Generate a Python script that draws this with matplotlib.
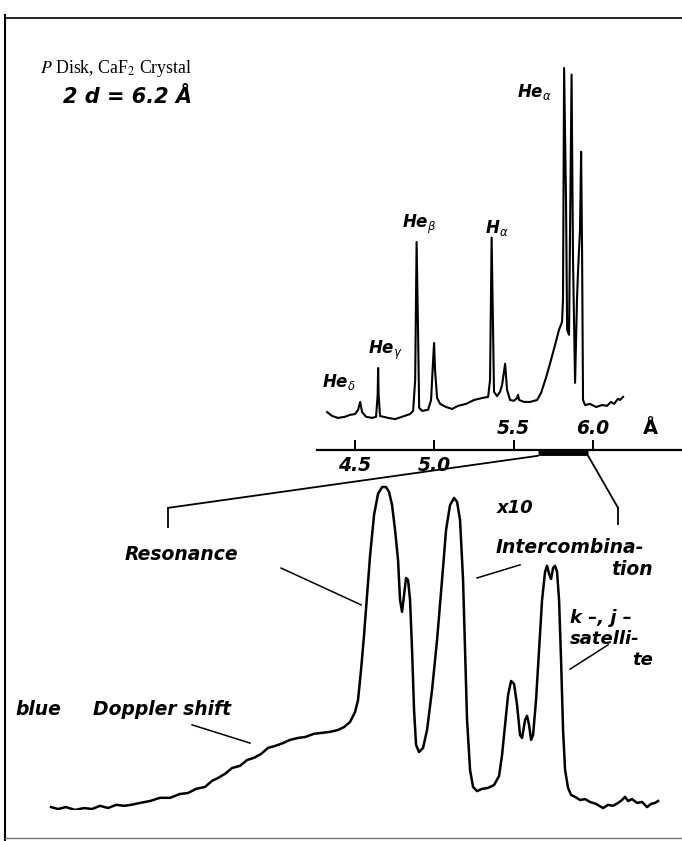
import matplotlib
matplotlib.use('Agg')
import matplotlib.pyplot as plt
from matplotlib.patches import ConnectionPatch
from matplotlib.lines import Line2D

plt.rcParams['mathtext.fontset'] = 'dejavusans'

# upper survey spectrum: wavelength (A) vs intensity (arb. units)
upper_wl = [4.327, 4.359, 4.396, 4.440, 4.472, 4.503, 4.522, 4.535, 4.547, 4.572,
            4.610, 4.635, 4.645, 4.648, 4.651, 4.660, 4.711, 4.755, 4.799, 4.849,
            4.868, 4.881, 4.890, 4.899, 4.906, 4.925, 4.962, 4.981, 4.994, 5.000,
            5.006, 5.019, 5.038, 5.076, 5.113, 5.151, 5.201, 5.252, 5.302, 5.340,
            5.352, 5.362, 5.371, 5.377, 5.396, 5.415, 5.428, 5.447, 5.459, 5.478,
            5.503, 5.522, 5.528, 5.535, 5.566, 5.604, 5.648, 5.673, 5.704, 5.736,
            5.761, 5.786, 5.805, 5.811, 5.818, 5.830, 5.837, 5.849, 5.865, 5.874,
            5.887, 5.899, 5.906, 5.918, 5.925, 5.931, 5.937, 5.950, 5.981, 6.019,
            6.057, 6.088, 6.113, 6.132, 6.157, 6.170, 6.189]
upper_int = [9.7, 8.7, 8.2, 8.5, 9.0, 9.2, 10.3, 12.3, 9.7, 8.5,
             8.2, 8.5, 14.1, 21.0, 14.1, 8.7, 8.2, 7.9, 8.5, 9.2,
             10.0, 17.9, 53.3, 30.8, 10.8, 10.0, 10.3, 12.8, 23.1, 27.4,
             20.5, 13.3, 11.8, 11.0, 10.5, 11.3, 11.8, 12.8, 13.3, 13.6,
             17.9, 54.4, 30.8, 14.9, 13.8, 14.9, 16.7, 22.1, 15.4, 12.8,
             12.6, 13.3, 14.1, 12.8, 12.3, 12.3, 12.8, 14.6, 18.5, 23.1,
             26.9, 30.8, 32.8, 38.5, 97.9, 64.1, 30.8, 29.5, 96.2, 48.7,
             17.2, 38.5, 46.2, 56.4, 76.4, 51.3, 12.8, 11.5, 11.8, 11.0,
             11.5, 11.3, 12.3, 11.8, 13.1, 12.8, 13.6]

scale_ticks = [4.5, 5.0, 5.5, 6.0]
scale_labels = ['4.5', '5.0', '5.5', '6.0']
zoom_range = [5.654, 5.969]

# lower x10 spectrum of the He-alpha group: relative wavelength (mA) vs intensity
lower_dwl = [0, 3.5, 7.5, 12, 16.5, 20.5, 24.5, 28.5, 32.5, 36.5,
             40, 44.5, 49.5, 54.5, 59.5, 64.5, 68.5, 72.5, 77, 80.5,
             83.5, 87, 90.5, 94.5, 98, 101.5, 105, 108.5, 112, 116,
             119.5, 123.5, 127, 131.5, 135.5, 139.5, 143.5, 146.5, 149.5, 152,
             153.5, 155, 156.5, 158, 159.5, 161.5, 163.5, 165.5, 167.5, 169,
             170.5, 172, 173.5, 174.5, 175.5, 176.5, 177.5, 178.5, 179.5, 180.5,
             181.5, 182.5, 184, 186, 188, 190.5, 193, 195.5, 197.5, 199.5,
             201.5, 203, 204.5, 206, 207, 208, 209.5, 211, 213, 215.5,
             218.5, 221.5, 224, 225.5, 227, 228.5, 230, 231.5, 233, 234.5,
             235.5, 237, 238, 239, 240, 241, 242.5, 244, 245.5, 247,
             248, 249, 250, 251, 252, 253, 254, 255, 256, 257,
             258.5, 260, 262, 264.5, 267, 269.5, 272.5, 276, 278.5, 281,
             283.5, 285.5, 287, 288.5, 290.5, 293, 295.5, 298, 300, 302, 303.5]
lower_int = [0.9, 0.3, 0.9, 0.0, 0.6, 0.3, 1.3, 0.6, 1.6, 1.3,
             1.6, 2.2, 2.8, 3.8, 3.8, 5.0, 5.3, 6.6, 7.2, 9.1,
             10.0, 11.3, 13.1, 13.8, 15.6, 16.3, 17.5, 19.4, 20.0, 20.9,
             21.9, 22.5, 22.8, 23.8, 24.1, 24.4, 25.0, 25.9, 27.5, 30.6,
             34.4, 43.8, 54.7, 67.2, 79.4, 92.2, 98.8, 100.9, 100.9, 99.4,
             95.3, 87.5, 78.1, 65.6, 61.9, 67.2, 72.5, 71.9, 65.6, 50.0,
             31.3, 20.3, 18.1, 19.4, 25.0, 37.5, 53.1, 71.9, 87.5, 95.3,
             97.5, 96.3, 90.6, 71.9, 50.0, 28.1, 12.5, 7.2, 5.9, 6.6,
             6.9, 7.8, 10.6, 17.2, 26.6, 35.9, 40.3, 39.4, 32.8, 23.4,
             22.5, 28.1, 29.4, 26.6, 21.9, 23.4, 34.4, 50.0, 65.6, 74.4,
             76.3, 73.8, 72.2, 75.6, 76.3, 74.4, 65.6, 46.9, 25.0, 12.5,
             6.9, 4.7, 4.1, 3.1, 3.4, 2.5, 1.9, 0.6, 1.6, 1.3,
             2.2, 3.1, 4.1, 2.8, 3.4, 2.2, 2.5, 0.9, 1.9, 2.2, 2.8]

lab = dict(family='DejaVu Sans', fontweight='bold', fontstyle='italic', color='black')

fig = plt.figure(figsize=(6.82, 8.41), dpi=100)

# page frame
fig.add_artist(Line2D([0.0073, 1.0], [0.9786, 0.9786], transform=fig.transFigure, color='black', lw=1.2))
fig.add_artist(Line2D([0.0073, 0.0073], [0.0, 0.982], transform=fig.transFigure, color='black', lw=1.5))
fig.add_artist(Line2D([0.0073, 1.0], [0.0036, 0.0036], transform=fig.transFigure, color='0.45', lw=1.0))

fig.text(0.0587, 0.919, r'$P$ Disk, CaF$_2$ Crystal', family='Liberation Serif',
         math_fontfamily='stix', fontsize=12.8, va='center')
fig.text(0.092, 0.885, '2 d = 6.2 Å', fontsize=15, va='center', **lab)

# upper spectrum with wavelength scale
ax_up = fig.add_axes([0.465, 0.465, 0.535, 0.464])
ax_up.set_xlim(4.2642, 6.5597)
ax_up.set_ylim(0, 100)
ax_up.plot(upper_wl, upper_int, color='black', lw=1.5)
for s in ['top', 'left', 'right']:
    ax_up.spines[s].set_visible(False)
ax_up.spines['bottom'].set_linewidth(1.6)
ax_up.set_yticks([])
ax_up.set_xticks(scale_ticks)
ax_up.tick_params(axis='x', direction='in', length=7, width=1.4, labelbottom=False)
ax_up.patch.set_alpha(0)
tr = ax_up.get_xaxis_transform()
for t, s in zip(scale_ticks, scale_labels):
    yy = -0.04 if t < 5.25 else 0.054
    ax_up.text(t, yy, s, transform=tr, ha='center', va='center', fontsize=13.5, **lab)
ax_up.text(6.358, 0.054, 'Å', transform=tr, ha='center', va='center', fontsize=14,
           family='DejaVu Sans', fontweight='bold')
ax_up.plot(zoom_range, [-0.008, -0.008], transform=tr, color='black', lw=3.5,
           clip_on=False, solid_capstyle='butt')

ax_up.text(4.296, 17.4, r'He$_{\delta}$', fontsize=12, va='center', **lab)
ax_up.text(4.585, 25.6, r'He$_{\gamma}$', fontsize=12, va='center', **lab)
ax_up.text(4.799, 57.7, r'He$_{\beta}$', fontsize=12, va='center', **lab)
ax_up.text(5.321, 56.9, r'H$_{\alpha}$', fontsize=12, va='center', **lab)
ax_up.text(5.522, 91.8, r'He$_{\alpha}$', fontsize=12, va='center', **lab)

# lower x10 spectrum
ax_lo = fig.add_axes([0.0587, 0.0369, 0.9238, 0.3924])
ax_lo.set_xlim(-5.5, 309.5)
ax_lo.set_ylim(0, 103.125)
ax_lo.axis('off')
ax_lo.plot(lower_dwl, lower_int, color='black', lw=1.8)

# bracket linking the scale to the expanded spectrum
ax_lo.plot([58.5, 58.5], [94.4, 88.4], color='black', lw=1.3, clip_on=False)
ax_lo.plot([283.5, 283.5], [94.4, 89.4], color='black', lw=1.3, clip_on=False)
for xa, xb in zip(zoom_range, [58.5, 283.5]):
    con = ConnectionPatch(xyA=(xa, -1.5), coordsA=ax_up.transData,
                          xyB=(xb, 94.4), coordsB=ax_lo.transData,
                          color='black', lw=1.3)
    fig.add_artist(con)

ax_lo.text(232, 94.4, 'x10', fontsize=13, ha='center', va='center', **lab)
ax_lo.text(65, 79.7, 'Resonance', fontsize=13.5, ha='center', va='center', **lab)
ax_lo.plot([115, 155], [75.6, 64.1], color='black', lw=1.1)
ax_lo.text(259.25, 81.9, 'Intercombina-', fontsize=13.5, ha='center', va='center', **lab)
ax_lo.text(301, 75.0, 'tion', fontsize=13.5, ha='right', va='center', **lab)
ax_lo.plot([234.5, 213], [76.6, 72.5], color='black', lw=1.1)
ax_lo.text(259.5, 59.9, 'k –, j –', fontsize=13, ha='left', va='center', **lab)
ax_lo.text(259.5, 53.4, 'satelli-', fontsize=13, ha='left', va='center', **lab)
ax_lo.text(301, 47.0, 'te', fontsize=13, ha='right', va='center', **lab)
ax_lo.plot([278.5, 259.5], [51.6, 44.0], color='black', lw=1.1)
ax_lo.text(-18, 31.25, 'blue', fontsize=13.5, ha='left', va='center', **lab)
ax_lo.text(21, 31.25, 'Doppler shift', fontsize=13.5, ha='left', va='center', **lab)
ax_lo.plot([70.5, 99.5], [26.6, 20.9], color='black', lw=1.1)

fig.savefig('out.png', dpi=100)
